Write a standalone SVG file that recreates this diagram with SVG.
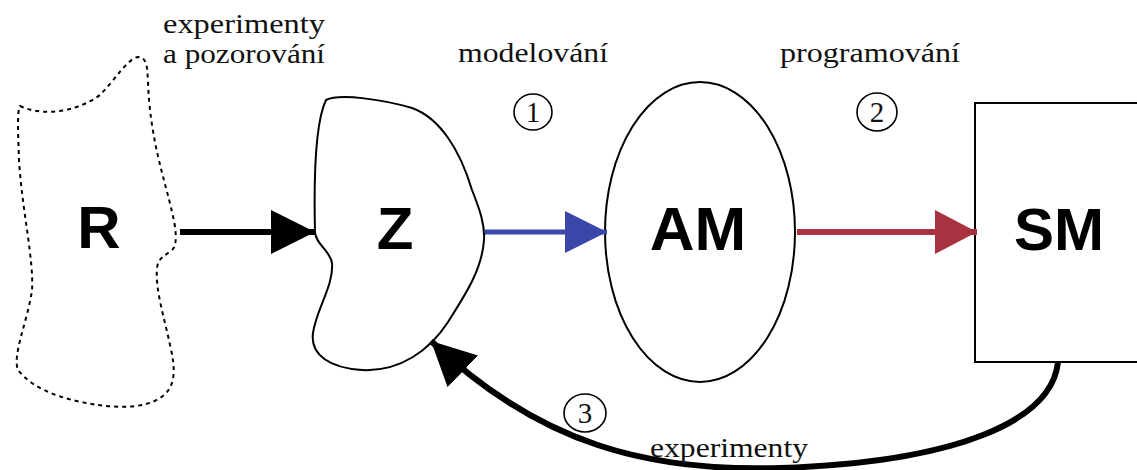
<svg xmlns="http://www.w3.org/2000/svg" width="1137" height="470" viewBox="0 0 1137 470">
<style>
.lbl{font-family:"Liberation Serif",serif;font-size:28px;fill:#111}
.num{font-family:"Liberation Serif",serif;font-size:29px;fill:#111;text-anchor:middle}
.big{font-family:"Liberation Sans",Arial,sans-serif;font-size:60px;font-weight:bold;fill:#000;text-anchor:middle}
.shape{fill:#fff;stroke:#000;stroke-width:2}
.circ{fill:none;stroke:#000;stroke-width:1.6}
</style>
<defs>
<marker id="hb" markerUnits="userSpaceOnUse" markerWidth="46" markerHeight="46" refX="44" refY="22" orient="auto"><path d="M0,0 L44,22 L0,44 Z" fill="#000"/></marker>
<marker id="hblue" markerUnits="userSpaceOnUse" markerWidth="46" markerHeight="46" refX="42" refY="21" orient="auto"><path d="M0,0 L42,21 L0,42 Z" fill="#3a47a8"/></marker>
<marker id="hred" markerUnits="userSpaceOnUse" markerWidth="46" markerHeight="46" refX="42" refY="22" orient="auto"><path d="M0,0 L42,22 L0,44 Z" fill="#a83240"/></marker>
</defs>
<rect width="1137" height="470" fill="#fff"/>
<g id="node-R">
<path d="M20,106 C45,118 80,110 100,95 C115,80 128,58 138,57 C148,58 147,68 148,82 C150,140 165,180 172,212 C176,228 178,245 172,250 C165,256 158,258 157,268 C155,290 165,320 170,345 C176,370 176,388 160,398 C145,408 120,408 98,405 C70,401 35,392 18,370 C12,355 28,320 32,290 C34,260 22,210 19,160 C18,130 17,112 20,106 Z" fill="#fff" stroke="#000" stroke-width="2" stroke-dasharray="4,4"/>
<text class="big" x="99" y="248">R</text>
</g>
<g id="node-Z">
<path d="M326,100 C340,93 385,100 412,108 C440,118 460,150 472,190 C480,210 485,225 484,240 C482,270 465,295 448,322 C430,350 400,372 362,370 C330,368 310,355 313,333 C316,310 334,285 332,263 C330,250 316,245 315,232 C314,190 314,125 326,100 Z" class="shape"/>
<text class="big" x="395" y="249">Z</text>
</g>
<g id="node-AM">
<ellipse cx="700" cy="232" rx="95" ry="150" class="shape"/>
<text class="big" x="698" y="250" style="font-size:62px">AM</text>
</g>
<g id="node-SM">
<rect x="975" y="103" width="175" height="259" class="shape" stroke-width="2.5"/>
<text class="big" x="1059" y="250">SM</text>
</g>
<g id="connectors">
<line x1="180" y1="232" x2="315" y2="232" stroke="#000" stroke-width="6" marker-end="url(#hb)"/>
<line x1="485" y1="232" x2="607" y2="232" stroke="#3a47a8" stroke-width="5" marker-end="url(#hblue)"/>
<line x1="797" y1="232" x2="977" y2="232" stroke="#a83240" stroke-width="6" marker-end="url(#hred)"/>
<path d="M1058,362 C1052,420 960,462 780,468 C650,472 540,445 431,341" fill="none" stroke="#000" stroke-width="6" marker-end="url(#hb)"/>
</g>
<g id="labels">
<text class="lbl" x="163" y="33" textLength="162" lengthAdjust="spacingAndGlyphs">experimenty</text>
<text class="lbl" x="163" y="63" textLength="162" lengthAdjust="spacingAndGlyphs">a pozorování</text>
<text class="lbl" x="458" y="62" textLength="150" lengthAdjust="spacingAndGlyphs">modelování</text>
<text class="lbl" x="780" y="62" textLength="180" lengthAdjust="spacingAndGlyphs">programování</text>
<text class="lbl" x="650" y="457" textLength="158" lengthAdjust="spacingAndGlyphs">experimenty</text>
<ellipse class="circ" cx="533" cy="112" rx="19" ry="18"/>
<text class="num" x="533" y="122">1</text>
<ellipse class="circ" cx="877" cy="112" rx="20" ry="19"/>
<text class="num" x="877" y="122">2</text>
<ellipse class="circ" cx="585" cy="413" rx="21" ry="19"/>
<text class="num" x="585" y="423">3</text>
</g>
</svg>
